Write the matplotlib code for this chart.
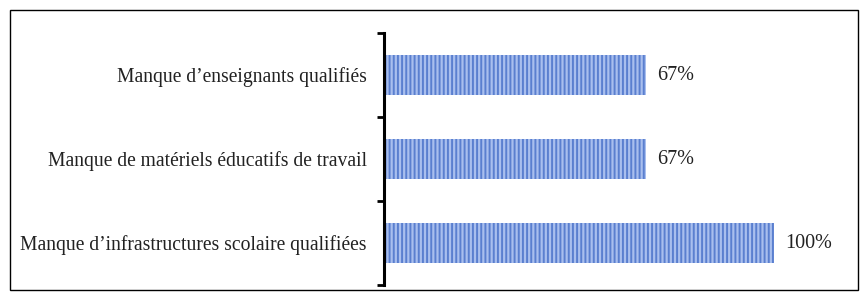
import matplotlib.pyplot as plt
from matplotlib.patches import Rectangle
import matplotlib as mpl

categories = ["Manque d\u2019infrastructures scolaire qualifiées",
              "Manque de matériels éducatifs de travail",
              "Manque d\u2019enseignants qualifiés"]
values = [100, 67, 67]
value_labels = ["100%", "67%", "67%"]

mpl.rcParams['font.family'] = ['Liberation Serif', 'DejaVu Serif']
mpl.rcParams['hatch.linewidth'] = 1.4

W, H = 866, 295
fig = plt.figure(figsize=(W/100, H/100), dpi=100)
ax = fig.add_axes([385/W, (H-285)/H, (774-385)/W, (285-33)/H])

ypos = list(range(len(categories)))
ax.barh(ypos, values, height=0.48, color='#a9bfee', edgecolor='#5a7fcf',
        hatch='||||', linewidth=0)
for y, v, lab in zip(ypos, values, value_labels):
    ax.text(v + 3, y, lab, va='center', ha='left', fontsize=14.5, color='#222222')

ax.set_xlim(0, 100)
ax.set_ylim(-0.5, 2.5)
ax.set_yticks(ypos)
ax.set_yticklabels(categories)
ax.set_yticks([-0.5, 0.5, 1.5, 2.5], minor=True)
ax.tick_params(axis='y', which='major', length=0, pad=12, labelsize=14.1,
               labelcolor='#222222')
ax.tick_params(axis='y', which='minor', length=5, width=2, direction='out')
ax.set_xticks([])
for s in ['top', 'right', 'bottom']:
    ax.spines[s].set_visible(False)
ax.spines['left'].set_linewidth(2.2)
ax.spines['left'].set_position(('outward', 1))

fig.patches.append(Rectangle((10/W, (H-290)/H), (858-10)/W, (290-10)/H,
                             transform=fig.transFigure, fill=False,
                             edgecolor='black', linewidth=1))
fig.savefig('out.png', dpi=100)
